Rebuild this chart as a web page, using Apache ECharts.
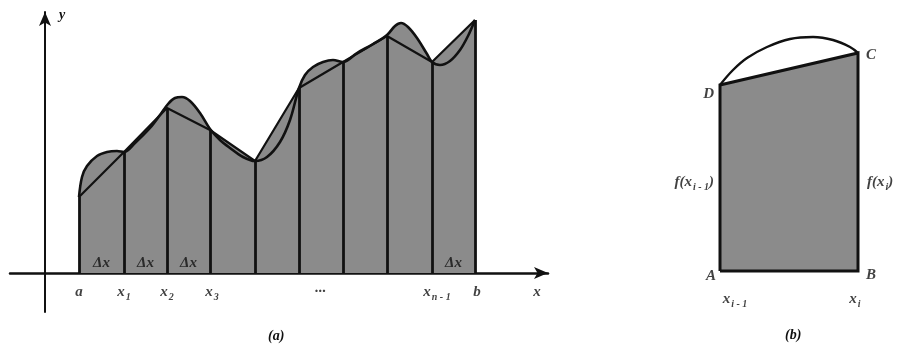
<!DOCTYPE html>
<html><head><meta charset="utf-8">
<script src="https://cdn.jsdelivr.net/npm/echarts@6/dist/echarts.min.js"></script>
<style>html,body{margin:0;padding:0;background:#fff}#c{width:898px;height:345px}</style>
</head><body><div id="c"></div>
<script>
// ---- Panel (a): partition points and chord (polygon) heights ----
const divX   = [34, 79, 122, 165, 210, 254, 298, 342, 387, 430];
const chordY = [76, 121, 165, 143, 112, 185, 211, 237, 211, 253];
// curve y = f(x) samples
const curveX = [34, 37, 42, 52, 62, 72, 79, 90, 105, 115, 123, 130, 137, 145, 155, 165, 175, 185, 198, 210, 222, 235, 245, 254, 260, 268, 278, 288, 298, 312, 328, 342, 350, 356, 363, 372, 382, 387, 395, 405, 415, 423, 430];
const curveY = [76, 96, 107, 117, 121, 122, 121, 130, 145, 158, 169, 175, 176, 172, 160, 144, 133, 125, 116, 112, 116, 131, 153, 185, 198, 206, 211, 213, 211, 220, 229, 238, 247, 250, 246, 235, 219, 211, 208, 212, 223, 237, 253];
// strips that carry a "Δx" label (index of strip)
const dxStrips = [0, 1, 2, 8];
// x-axis tick labels
const tickValues = [34, 79, 122, 167, 275, 392, 432, 492];
const tickLabels = ['{i|a}', '{i|x}{s|1}', '{i|x}{s|2}', '{i|x}{s|3}', '{i|···}', '{i|x}{s|n - 1}', '{i|b}', '{i|x}'];

// ---- Panel (b): trapezoid ABCD and arc DC ----
const trapX = [0, 138];          // x_{i-1}, x_i
const trapY = [186, 218];        // f(x_{i-1}), f(x_i)
const arcX = [0, 13, 27, 47, 70, 93, 113, 130, 138];
const arcY = [186, 201, 213, 224, 232, 234, 231, 224, 218];

const serif = '"Liberation Serif", "DejaVu Serif", serif';
const ink = '#111';
const fillGray = '#8b8b8b';
const richText = {
  i: {fontFamily: serif, fontStyle: 'italic', fontWeight: 'bold', fontSize: 15, color: ink, verticalAlign: 'top', lineHeight: 16},
  s: {fontFamily: serif, fontStyle: 'italic', fontWeight: 'bold', fontSize: 10, color: ink, verticalAlign: 'top', lineHeight: 12, padding: [7, 0, 0, 1]}
};

const curvePts = curveX.map((x, i) => [x, curveY[i]]);
const chordPts = divX.map((x, i) => [x, chordY[i]]);
const stripLines = divX.map((x, i) => ({coords: [[x, 0], [x, chordY[i]]]}));
const dxPts = dxStrips.map(k => [(divX[k] + divX[k + 1]) / 2, 10]);
const tickPts = tickValues.map((v, i) => ({value: [v, -20], text: tickLabels[i]}));

const trapPts = [[trapX[0], 0], [trapX[1], 0], [trapX[1], trapY[1]], [trapX[0], trapY[0]], [trapX[0], 0]];
const topEdge = [[trapX[0], trapY[0]], [trapX[1], trapY[1]]];
const arcPts = arcX.map((x, i) => [x, arcY[i]]);
const midY = 88;
const bLabels = [
  {value: [trapX[0], 0], text: '{i|A}', pos: 'left', off: [2, 6]},
  {value: [trapX[1], 0], text: '{i|B}', pos: 'right', off: [2, 5]},
  {value: [trapX[1], trapY[1]], text: '{i|C}', pos: 'right', off: [2, 3]},
  {value: [trapX[0], trapY[0]], text: '{i|D}', pos: 'left', off: [0, 10]},
  {value: [trapX[0], midY], text: '{i|f(x}{s|i - 1}{i|)}', pos: 'left', off: [0, 0]},
  {value: [trapX[1], midY], text: '{i|f(x}{s|i}{i|)}', pos: 'right', off: [3, 0]},
  {value: [trapX[0] + 15, -29], text: '{i|x}{s|i - 1}', pos: 'inside', off: [0, 0]},
  {value: [trapX[1] - 3, -29], text: '{i|x}{s|i}', pos: 'inside', off: [0, 0]}
];

const chart = echarts.init(document.getElementById('c'), null, {renderer: 'canvas'});
chart.setOption({
  animation: false,
  backgroundColor: '#fff',
  title: [
    {text: '(a)', left: 263, top: 324, textStyle: {fontFamily: serif, fontStyle: 'italic', fontWeight: 'bold', fontSize: 14, color: ink}},
    {text: '(b)', left: 780, top: 323, textStyle: {fontFamily: serif, fontStyle: 'italic', fontWeight: 'bold', fontSize: 14, color: ink}}
  ],
  grid: [
    {left: 10, right: 350, top: 12, bottom: 33},
    {left: 720, right: 40, top: 20, bottom: 0}
  ],
  xAxis: [
    {gridIndex: 0, type: 'value', min: -35, max: 503,
     axisLine: {onZero: true, lineStyle: {color: ink, width: 2.5}, symbol: ['none', 'arrow'], symbolSize: [9, 14]},
     axisTick: {show: false}, splitLine: {show: false}, axisLabel: {show: false}},
    {gridIndex: 1, type: 'value', min: 0, max: 138, show: false}
  ],
  yAxis: [
    {gridIndex: 0, type: 'value', min: -39, max: 261,
     axisLine: {show: true, onZero: true, lineStyle: {color: ink, width: 2}, symbol: ['none', 'arrow'], symbolSize: [9, 14]},
     axisTick: {show: false}, splitLine: {show: false}, axisLabel: {show: false},
     name: 'y', nameLocation: 'end', nameGap: -10,
     nameTextStyle: {fontFamily: serif, fontStyle: 'italic', fontWeight: 'bold', fontSize: 14, color: ink, align: 'left', padding: [0, 0, 0, 14]}},
    {gridIndex: 1, type: 'value', min: -74, max: 251, show: false}
  ],
  series: [
    {type: 'line', xAxisIndex: 0, yAxisIndex: 0, data: curvePts, smooth: 0.35, symbol: 'none',
     lineStyle: {width: 0}, areaStyle: {color: fillGray, opacity: 1}, z: 1},
    {type: 'line', xAxisIndex: 0, yAxisIndex: 0, data: chordPts, symbol: 'none',
     lineStyle: {width: 2.2, color: ink}, areaStyle: {color: fillGray, opacity: 1}, z: 2},
    {type: 'lines', coordinateSystem: 'cartesian2d', xAxisIndex: 0, yAxisIndex: 0, data: stripLines,
     lineStyle: {width: 2.8, color: ink, opacity: 1}, z: 3},
    {type: 'line', xAxisIndex: 0, yAxisIndex: 0, data: curvePts, smooth: 0.35, symbol: 'none',
     lineStyle: {width: 2.6, color: ink}, z: 4},
    {type: 'scatter', xAxisIndex: 0, yAxisIndex: 0, data: dxPts, symbolSize: 0, z: 5,
     label: {show: true, position: 'inside', formatter: 'Δx', fontFamily: serif, fontStyle: 'italic', fontWeight: 'bold', fontSize: 15, color: ink}},
    {type: 'scatter', xAxisIndex: 0, yAxisIndex: 0, symbolSize: 0, z: 5, clip: false,
     data: tickPts.map(d => ({value: d.value, label: {show: true, position: 'inside', formatter: d.text, rich: richText}}))},

    {type: 'line', xAxisIndex: 1, yAxisIndex: 1, data: topEdge, symbol: 'none',
     lineStyle: {width: 0}, areaStyle: {color: fillGray, opacity: 1, origin: 0}, z: 1},
    {type: 'line', xAxisIndex: 1, yAxisIndex: 1, data: trapPts, symbol: 'none',
     lineStyle: {width: 3, color: ink, join: 'miter'}, z: 3},
    {type: 'line', xAxisIndex: 1, yAxisIndex: 1, data: arcPts, smooth: 0.4, symbol: 'none',
     lineStyle: {width: 2.4, color: ink}, z: 3},
    {type: 'scatter', xAxisIndex: 1, yAxisIndex: 1, symbolSize: 0, z: 5, clip: false,
     data: bLabels.map(d => ({value: d.value, label: {show: true, position: d.pos, offset: d.off, distance: 6,
       formatter: d.text, rich: richText}}))}
  ]
});
</script></body></html>
